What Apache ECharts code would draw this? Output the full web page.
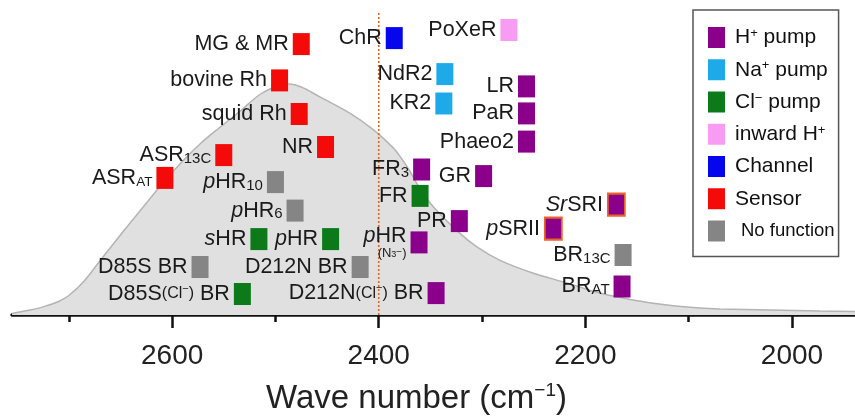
<!DOCTYPE html>
<html>
<head>
<meta charset="utf-8">
<script src="https://cdn.jsdelivr.net/npm/echarts@6/dist/echarts.min.js"></script>
<style>
  html, body { margin: 0; padding: 0; background: #fff; }
  #chart { width: 855px; height: 418px; }
</style>
</head>
<body>
<div id="chart"></div>
<script>
// Absorption spectrum (wave number, relative absorbance)
const spectrumWn  = [2755, 2740, 2725, 2710, 2700, 2686, 2670, 2647, 2628, 2609, 2592, 2573, 2554, 2534, 2515, 2497, 2487, 2475, 2457, 2428, 2405, 2386, 2379, 2370, 2360, 2347, 2323, 2305, 2283, 2251, 2218, 2186, 2154, 2121, 2089, 2070, 2021, 1973, 1939];
const spectrumAbs = [0.005, 0.015, 0.027, 0.045, 0.065, 0.11, 0.18, 0.28, 0.36, 0.44, 0.505, 0.57, 0.625, 0.68, 0.735, 0.765, 0.77, 0.76, 0.727, 0.673, 0.617, 0.557, 0.527, 0.48, 0.42, 0.36, 0.277, 0.227, 0.183, 0.14, 0.107, 0.073, 0.05, 0.033, 0.023, 0.02, 0.017, 0.013, 0.012];

// Reference line (cm-1)
const referenceWn = 2400;

// Axis ticks
const majorTicks = [2000, 2200, 2400, 2600];
const minorTicks = [2100, 2300, 2500, 2700];

// Function classes
const classNames = ['H+ pump', 'Na+ pump', 'Cl- pump', 'inward H+', 'Channel', 'Sensor', 'No function'];

// [label, wave number, row level]
const hPump = [
  ['LR', 2257, 0.762],
  ['PaR', 2257, 0.672],
  ['Phaeo2', 2257, 0.578],
  ['FR{sub|3}', 2358.5, 0.485],
  ['GR', 2298.5, 0.463],
  ['PR', 2322, 0.313],
  ['{it|p}HR\n{ns|(N}{nsb|3}{nsp|−}{ns|)}', 2361, 0.242],
  ['D212N{cl|(Cl}{clsup|−}{cl|)} BR', 2344.5, 0.073],
  ['BR{sub|AT}', 2164.5, 0.095]
];
const hPumpSensory = [
  ['{it|p}SRII', 2231, 0.288],
  ['{it|Sr}SRI', 2170, 0.368]
];
const naPump = [
  ['NdR2', 2336, 0.803],
  ['KR2', 2337, 0.705]
];
const clPump = [
  ['FR', 2360, 0.397],
  ['{it|s}HR', 2516, 0.253],
  ['{it|p}HR', 2446.6, 0.253],
  ['D85S{cl|(Cl}{clsup|−}{cl|)} BR', 2532, 0.07]
];
const inwardH = [
  ['PoXeR', 2274, 0.95]
];
const channel = [
  ['ChR', 2385, 0.923]
];
const sensor = [
  ['MG & MR', 2475, 0.903],
  ['bovine Rh', 2496, 0.782],
  ['squid Rh', 2477, 0.67],
  ['NR', 2451.5, 0.56],
  ['ASR{sub|13C}', 2550, 0.533],
  ['ASR{subs|AT}', 2607, 0.457]
];
const noFunction = [
  ['{it|p}HR{sub|10}', 2500, 0.443],
  ['{it|p}HR{sub|6}', 2481, 0.348],
  ['D85S BR', 2573, 0.16],
  ['D212N BR', 2418, 0.16],
  ['BR{sub|13C}', 2163.5, 0.2]
];

const FONT = 'Liberation Sans, Arial, Helvetica, sans-serif';
const TXT = '#1a1a1a';

const labelRich = {
  it:    { fontFamily: FONT, fontSize: 21.5, fontStyle: 'italic', color: TXT, lineHeight: 22 },
  sub:   { fontFamily: FONT, fontSize: 15, color: TXT, verticalAlign: 'bottom', lineHeight: 10 },
  subs:  { fontFamily: FONT, fontSize: 13.5, color: TXT, verticalAlign: 'bottom', lineHeight: 10 },
  cl:    { fontFamily: FONT, fontSize: 16, color: TXT, lineHeight: 22 },
  clsup: { fontFamily: FONT, fontSize: 11, color: TXT, verticalAlign: 'top', lineHeight: 14 },
  ns:    { fontFamily: FONT, fontSize: 13, color: TXT, lineHeight: 12 },
  nsb:   { fontFamily: FONT, fontSize: 9, color: TXT, verticalAlign: 'bottom', lineHeight: 8 },
  nsp:   { fontFamily: FONT, fontSize: 10, color: TXT, verticalAlign: 'top', lineHeight: 8 }
};

function squares(name, rows, color, extraStyle) {
  return {
    type: 'scatter',
    name: name,
    symbol: 'rect',
    symbolSize: [17, 22],
    z: 5,
    itemStyle: Object.assign({ color: color, opacity: 1 }, extraStyle || {}),
    label: {
      show: true,
      position: 'left',
      distance: 4,
      formatter: p => p.name,
      fontFamily: FONT,
      fontSize: 21.5,
      lineHeight: 22,
      color: TXT,
      align: 'right',
      rich: labelRich
    },
    emphasis: { disabled: true },
    data: rows.map(r => ({ name: r[0], value: [r[1], r[2]] }))
  };
}

const legendText = {
  'H+ pump': '{t|H}{sup|+}{t| pump}',
  'Na+ pump': '{t|Na}{sup|+}{t| pump}',
  'Cl- pump': '{t|Cl}{sup|−}{t| pump}',
  'inward H+': '{t|inward H}{sup|+}',
  'Channel': '{t|Channel}',
  'Sensor': '{t|Sensor}',
  'No function': '{nf|No function}'
};

const chart = echarts.init(document.getElementById('chart'), null, { renderer: 'canvas' });

chart.setOption({
  animation: false,
  backgroundColor: '#ffffff',
  grid: { left: 12, right: 0, top: 0, bottom: 103 },
  xAxis: [
    {
      type: 'value',
      min: 1939,
      max: 2755,
      inverse: true,
      position: 'bottom',
      axisLine: { show: true, lineStyle: { color: '#111', width: 3.5 } },
      axisTick: { show: true, customValues: majorTicks, length: 13, lineStyle: { color: '#111', width: 2.5 } },
      axisLabel: {
        show: true, customValues: majorTicks, margin: 27,
        fontFamily: FONT, fontSize: 28, color: '#222',
        formatter: v => String(v)
      },
      splitLine: { show: false }
    },
    {
      type: 'value',
      min: 1939,
      max: 2755,
      inverse: true,
      position: 'bottom',
      axisLine: { show: false },
      axisTick: { show: true, customValues: minorTicks, length: 7, lineStyle: { color: '#111', width: 2.5 } },
      axisLabel: { show: false },
      splitLine: { show: false }
    }
  ],
  yAxis: {
    type: 'value',
    min: 0,
    max: 1.05,
    show: false
  },
  legend: {
    orient: 'vertical',
    left: 693,
    top: 10,
    padding: [17, 4, 15, 15],
    itemWidth: 17,
    itemHeight: 21,
    itemGap: 11.25,
    icon: 'rect',
    borderColor: '#555',
    borderWidth: 1.5,
    backgroundColor: '#fff',
    selectedMode: false,
    data: classNames,
    formatter: name => legendText[name],
    textStyle: {
      fontFamily: FONT,
      fontSize: 21,
      lineHeight: 21,
      color: '#111',
      padding: [0, 0, 0, 5],
      rich: {
        t:   { fontFamily: FONT, fontSize: 21, lineHeight: 21, color: '#111' },
        sup: { fontFamily: FONT, fontSize: 13, verticalAlign: 'top', lineHeight: 12, color: '#111' },
        nf:  { fontFamily: FONT, fontSize: 18.5, lineHeight: 21, color: '#111', padding: [0, 0, 0, 6] }
      }
    }
  },
  graphic: [
    {
      type: 'text',
      left: 266,
      top: 381,
      z: 10,
      style: {
        text: '{m|Wave number (cm}{s|−1}{m|)}',
        rich: {
          m: { fontFamily: FONT, fontSize: 33, fill: '#222', lineHeight: 36 },
          s: { fontFamily: FONT, fontSize: 19, fill: '#222', verticalAlign: 'top', lineHeight: 24 }
        }
      }
    }
  ],
  series: [
    {
      type: 'line',
      name: 'spectrum',
      data: spectrumWn.map((w, i) => [w, spectrumAbs[i]]),
      smooth: 0.35,
      symbol: 'none',
      z: 1,
      lineStyle: { color: '#b4b4b4', width: 1.5 },
      areaStyle: { color: '#e0e0e0', opacity: 1 },
      emphasis: { disabled: true }
    },
    {
      type: 'line',
      name: 'reference',
      data: [[referenceWn, 0], [referenceWn, 1.01]],
      symbol: 'none',
      z: 2,
      lineStyle: { color: '#e2641e', width: 1.6, type: [2, 2] },
      emphasis: { disabled: true }
    },
    squares('H+ pump', hPump, '#8b008b'),
    squares('Na+ pump', naPump, '#1eaae8'),
    squares('Cl- pump', clPump, '#0d7a1a'),
    squares('inward H+', inwardH, '#f79cf2'),
    squares('Channel', channel, '#0505ee'),
    squares('Sensor', sensor, '#f50a0a'),
    squares('No function', noFunction, '#858585'),
    squares('H+ pump', hPumpSensory, '#8b008b', { borderColor: '#e8652a', borderWidth: 2 })
  ]
});
</script>
</body>
</html>
